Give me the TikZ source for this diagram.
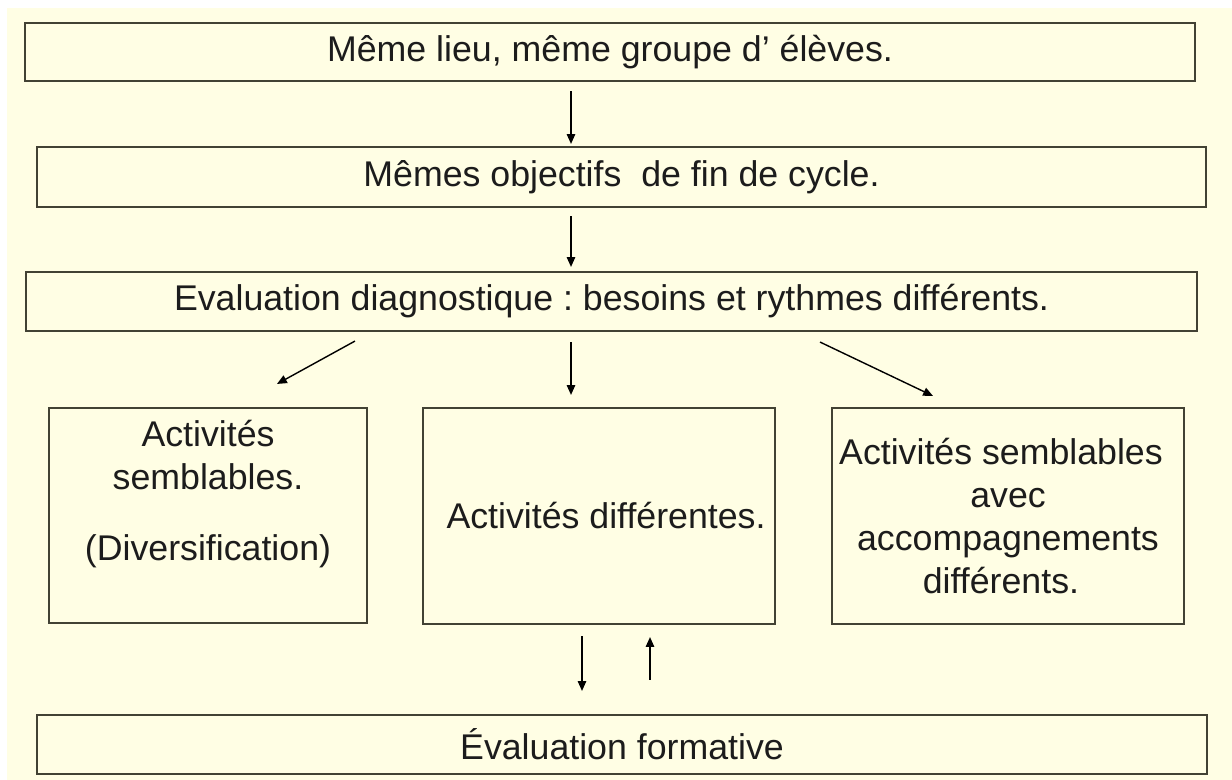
\documentclass[tikz,border=0pt]{standalone}
\usepackage{fontspec}
\setmainfont{Liberation Sans}
\usepackage{tikz}
\usetikzlibrary{arrows.meta, calc, positioning}
\frenchspacing

\definecolor{creme}{RGB}{255,254,228}
\definecolor{trait}{RGB}{66,66,52}
\definecolor{encre}{RGB}{28,28,28}

\tikzset{
  boite/.style={draw=trait, line width=1.5pt, rectangle, inner sep=0pt,
    text=encre, font=\fontsize{25.4}{30.4}\selectfont, align=center},
  fleche/.style={-{Triangle[length=7pt,width=6pt]}, line width=1pt, black}
}

\begin{document}
\begin{tikzpicture}[x=0.025cm, y=-0.025cm]

        % fond
        \useasboundingbox (0,0) rectangle (1232,780);
        \fill[white] (0,0) rectangle (1232,780);
        \fill[creme] (7,8) rectangle (1232,780);

        % les boites du haut
        \node[boite, minimum width=1170*0.025cm, minimum height=58*0.025cm] (lieu) at (610,52) {Même lieu, même groupe d’\ élèves.};
        \node[boite, minimum width=1169*0.025cm, minimum height=60*0.025cm] (objectifs) at (621.5,177) {Mêmes objectifs\ \ de fin de cycle.};
        \node[boite, minimum width=1171*0.025cm, minimum height=59*0.025cm] (diagno) at (611.5,301.5) {Evaluation diagnostique : besoins et rythmes différents.};

        % les trois activites
        \node[boite, minimum width=318*0.025cm, minimum height=215*0.025cm] (sembl) at (208,515.5) {};
        \node[text=encre, font=\fontsize{25.4}{30.4}\selectfont, align=center] (sembltxt) at (208,494) {Activités\\semblables.\\[20pt](Diversification)};
        \node[boite, minimum width=352*0.025cm, minimum height=216*0.025cm] (diff) at (599,516) {\hspace*{10pt}Activités différentes.};
        \node[boite, minimum width=352*0.025cm, minimum height=216*0.025cm] (accomp) at (1008,516) {Activités semblables\hspace*{10pt}\\avec\hspace*{10pt}\\accompagnements\hspace*{10pt}\\différents.\hspace*{10pt}};

        % evaluation finale
        \node[boite, minimum width=1170*0.025cm, minimum height=59*0.025cm] (formative) at (622,744.5) {Évaluation formative};

        % fleches
        \draw[fleche] ($(lieu.south)+(-39,9)$) -- ($(objectifs.north)+(-50.5,-2)$);
        \draw[fleche] ($(objectifs.south)+(-50.5,8)$) -- ($(diagno.north)+(-40.5,-4)$);
        \draw[fleche] ($(diagno.south)+(-256.5,9)$) -- ($(sembl.north)+(69,-23)$);
        \draw[fleche] ($(diagno.south)+(-40.5,10)$) -- ($(diff.north)+(-28,-12)$);
        \draw[fleche] ($(diagno.south)+(208.5,10)$) -- ($(accomp.north)+(-75,-11)$);
        \draw[fleche] ($(diff.south)+(-17,11)$) -- ($(formative.north)+(-40,-23)$);
        \draw[fleche] ($(formative.north)+(28,-34)$) -- ($(diff.south)+(51,12)$);

\end{tikzpicture}
\end{document}
